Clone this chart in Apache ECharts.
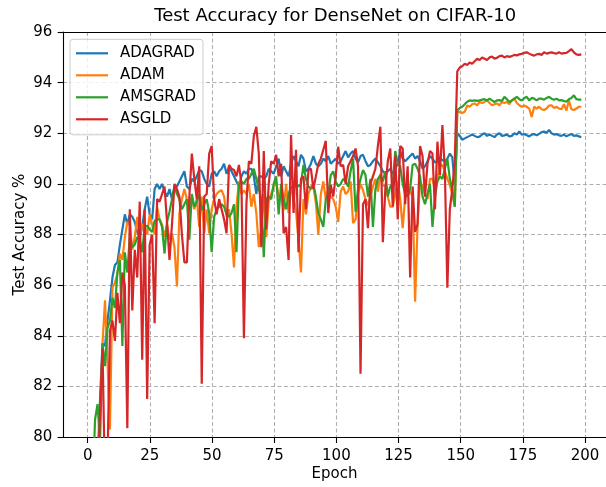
<!DOCTYPE html>
<html><head><meta charset="utf-8">
<script src="https://cdn.jsdelivr.net/npm/echarts@6/dist/echarts.min.js"></script>
<style>html,body{margin:0;padding:0;background:#fff}#c{width:606px;height:487px}</style>
</head><body><div id="c"></div>
<script>
// ---- data ----
const seriesNames = ['ADAGRAD', 'ADAM', 'AMSGRAD', 'ASGLD'];
const seriesColors = ['#1f77b4', '#ff7f0e', '#2ca02c', '#d62728'];
const xTickValues = [0, 25, 50, 75, 100, 125, 150, 175, 200];
const yTickValues = [80, 82, 84, 86, 88, 90, 92, 94, 96];

const adagrad = [
55, 65, 72, 76, 79, 81.5, 83.7, 83.6, 84.6, 85.4,
86.3, 86.8, 86.9, 87.6, 88.2, 88.8, 88.4, 88.8, 88.7, 88.5,
88.1, 87.9, 88.3, 89.0, 89.5, 88.8, 88.6, 89.8, 90.0, 89.8,
90.0, 89.7, 89.5, 89.8, 89.4, 89.9, 89.9, 90.1, 90.3, 90.5,
89.9, 89.8, 90.2, 90.1, 90.3, 90.55, 90.5, 90.2, 90.0, 89.9,
90.4, 90.5, 90.3, 90.5, 90.6, 90.8, 90.4, 90.7, 90.5, 90.3,
90.1, 89.9, 90.3, 90.5, 90.4, 90.6, 90.6, 90.3, 89.6, 90.3,
90.3, 90.2, 90.3, 90.6, 90.5, 90.4, 90.7, 91.0, 90.3, 90.7,
90.5, 90.3, 90.8, 91.1, 90.9, 90.7, 91.15, 91.0, 90.5, 90.6,
90.8, 91.1, 90.8, 90.7, 90.8, 91.0, 90.9, 91.1, 90.8, 90.9,
91.0, 90.8, 90.9, 91.1, 91.3, 91.05, 91.2, 91.3, 91.0, 90.85,
91.1, 91.15, 90.9, 90.7, 90.75, 90.9, 91.0, 90.85, 90.7, 90.5,
90.4, 90.5, 90.6, 90.4, 90.6, 90.8, 91.3, 91.0, 90.9, 91.0,
91.1, 91.2, 91.0, 91.1, 90.9, 90.6, 90.7, 90.9, 91.1, 91.0,
90.85, 90.9, 91.0, 90.95, 90.9, 91.0, 91.2, 91.05, 89.95, 92.0,
91.9, 91.75, 91.8, 91.85, 91.9, 91.95, 91.9, 91.85, 91.87, 91.95,
92.0, 91.9, 91.95, 91.9, 91.85, 91.95, 92.0, 91.9, 91.92, 91.95,
91.88, 91.9, 92.0, 91.95, 92.07, 91.95, 91.97, 91.92, 91.88, 91.95,
91.97, 91.92, 91.98, 92.05, 92.07, 92.02, 92.13, 92.0, 91.95, 91.97,
91.92, 91.9, 91.95, 91.88, 91.93, 91.97, 91.9, 91.92, 91.88, 91.85
];

const adam = [
50, 60, 68, 74, 78, 80.5, 83.7, 85.4, 83.0, 80.3,
85.9, 86.1, 86.45, 87.25, 87.0, 87.9, 88.5, 88.4, 87.4, 87.9,
88.7, 87.9, 88.4, 88.35, 88.0, 88.8, 88.4, 88.0, 89.1, 88.6,
88.4, 87.9, 88.4, 87.8, 88.05, 87.5, 85.95, 88.85, 89.4, 89.8,
89.4, 89.1, 89.5, 89.0, 89.4, 88.3, 89.5, 88.05, 89.0, 88.05,
89.0, 89.4, 89.6, 89.7, 89.75, 89.5, 88.7, 89.0, 88.05, 86.7,
89.1, 90.1, 89.6, 89.75, 89.6, 90.0, 89.1, 89.6, 88.85, 87.5,
88.2, 89.6, 87.9, 89.3, 89.6, 89.9, 90.1, 89.5, 89.6, 88.95,
90.0, 88.85, 89.9, 89.5, 88.9, 87.8, 86.5, 89.4, 88.8, 89.6,
89.9, 89.9, 89.25, 88.0, 89.6, 90.1, 89.4, 89.8, 89.5, 89.4,
89.1, 88.5, 89.7, 89.9, 89.6, 89.7, 90.1, 88.45, 88.6, 89.6,
90.0, 89.75, 89.4, 89.15, 89.5, 89.9, 90.2, 89.7, 90.4, 89.95,
89.9, 89.5, 89.1, 89.1, 89.6, 90.1, 89.4, 88.25, 89.5, 89.9,
89.7, 89.5, 85.35, 88.4, 90.1, 89.9, 89.6, 89.4, 90.2, 90.2,
89.8, 90.2, 90.7, 90.75, 90.5, 90.2, 89.95, 89.6, 89.1, 92.85,
92.85, 92.8, 92.85, 93.1, 93.05, 93.15, 93.18, 93.1, 93.24, 93.2,
93.24, 93.31, 93.2, 93.11, 93.15, 93.18, 93.1, 93.24, 93.2, 93.24,
93.15, 93.3, 93.37, 93.2, 93.11, 93.05, 93.1, 93.05, 92.98, 92.65,
93.05, 92.98, 93.05, 92.95, 92.92, 92.98, 93.1, 93.11, 93.0, 93.05,
92.98, 92.95, 93.15, 92.9, 93.3, 92.95, 92.92, 92.98, 93.05, 93.05
];

const amsgrad = [
50, 62, 78, 80.7, 81.3, 79.8, 83.7, 82.8, 84.3, 84.6,
85.5, 85.1, 86.5, 87.0, 83.6, 87.3, 86.5, 87.9, 87.5, 87.6,
87.9, 87.8, 87.3, 88.3, 88.35, 88.2, 88.1, 88.55, 88.6, 88.6,
88.3, 87.25, 88.5, 88.9, 89.4, 89.9, 89.6, 89.4, 89.0, 89.2,
89.4, 87.8, 89.6, 89.1, 89.3, 89.6, 88.97, 89.2, 89.4, 88.85,
87.3, 88.7, 89.0, 89.1, 89.2, 89.1, 88.8, 88.7, 88.85, 89.2,
87.3, 90.0, 90.1, 90.0, 90.2, 90.2, 90.4, 90.6, 90.2, 89.8,
89.4, 87.1, 89.4, 89.5, 89.4, 90.0, 90.3, 88.8, 90.0, 89.4,
89.0, 89.6, 89.9, 89.8, 90.0, 89.9, 90.0, 90.75, 90.2, 89.9,
89.8, 90.0, 89.5, 88.85, 88.6, 88.3, 89.4, 89.6, 90.35, 90.5,
90.1, 89.9, 90.0, 90.2, 90.1, 89.9, 90.5, 91.0, 88.9, 89.8,
90.2, 90.55, 90.35, 89.5, 90.2, 88.3, 89.8, 90.2, 90.35, 90.1,
90.5, 89.5, 89.9, 90.0, 91.3, 90.8, 90.7, 90.0, 89.6, 89.5,
89.8, 90.75, 90.8, 90.6, 90.3, 89.5, 89.2, 89.6, 90.0, 88.3,
89.5, 90.1, 90.3, 90.2, 90.6, 91.0, 90.2, 89.8, 89.1, 92.9,
93.0, 93.05, 93.15, 93.25, 93.3, 93.28, 93.3, 93.28, 93.3, 93.33,
93.35, 93.3, 93.37, 93.3, 93.24, 93.3, 93.31, 93.28, 93.44, 93.35,
93.24, 93.3, 93.37, 93.44, 93.35, 93.3, 93.4, 93.44, 93.3, 93.4,
93.37, 93.3, 93.37, 93.37, 93.33, 93.4, 93.44, 93.37, 93.33, 93.37,
93.3, 93.31, 93.28, 93.25, 93.35, 93.4, 93.5, 93.35, 93.33, 93.33
];

const asgld = [
50, 60, 68, 74, 78, 81, 83.5, 78, 79, 84.2,
84.6, 83.8, 85.7, 84.5, 86.5, 86.0, 80.35, 89.0, 85.0, 87.4,
86.3, 89.3, 83.05, 89.0, 81.5, 87.6, 88.0, 84.5, 89.4, 89.3,
89.6, 89.9, 88.5, 87.0, 88.4, 90.0, 89.8, 89.5, 88.0, 86.9,
86.9, 89.5, 91.2, 90.2, 89.4, 90.7, 82.1, 89.5, 89.6, 91.2,
91.5, 89.4, 88.8, 89.4, 89.0, 88.6, 88.05, 90.75, 90.6, 90.55,
90.3, 90.75, 90.0, 83.9, 89.2, 90.9, 90.8, 91.9, 92.26, 91.2,
87.5, 91.3, 88.2, 90.0, 90.9, 90.8, 91.15, 90.3, 90.8, 88.05,
88.3, 87.0, 91.93, 88.85, 91.35, 87.3, 90.2, 90.3, 89.0, 90.55,
90.6, 89.8, 90.3, 90.8, 91.0, 91.35, 91.7, 88.85, 89.96, 89.5,
90.3, 91.47, 90.7, 90.75, 90.0, 90.7, 90.9, 91.1, 91.4, 90.7,
82.5, 89.2, 89.4, 88.25, 90.0, 90.3, 90.6, 91.5, 92.26, 87.7,
89.8, 90.9, 91.4, 89.1, 91.1, 88.6, 91.5, 91.4, 89.2, 90.7,
86.3, 89.9, 88.1, 88.4, 91.5, 91.1, 89.5, 90.8, 91.3, 91.2,
89.0, 91.67, 90.35, 92.33, 90.5, 85.9, 89.0, 89.8, 90.95, 94.45,
94.6, 94.65, 94.75, 94.7, 94.8, 94.75, 94.85, 94.95, 94.9, 95.0,
94.95, 94.9, 95.0, 95.03, 94.95, 94.98, 95.05, 95.07, 95.0, 95.05,
95.02, 95.05, 95.1, 95.08, 95.12, 95.14, 95.18, 95.2, 95.15, 95.1,
95.07, 95.12, 95.14, 95.1, 95.2, 95.15, 95.18, 95.2, 95.17, 95.15,
95.2, 95.15, 95.17, 95.18, 95.25, 95.33, 95.2, 95.12, 95.1, 95.12
];

const epochs = adagrad.map((_, i) => i);
const seriesValues = [adagrad, adam, amsgrad, asgld];

// ---- layout ----
const FONT = 'DejaVu Sans';
const X_MIN = -9.95, X_MAX = 208.95;     // matplotlib auto-margins
const PX = 2.487;                         // px per epoch
const GL = 62.95, GT = 32.1, GH = 405.6;
const GW = (X_MAX - X_MIN) * PX;
const TL = GL + (xTickValues[0] - X_MIN) * PX;
const TW = (xTickValues[xTickValues.length - 1] - xTickValues[0]) * PX;
const spine = { color: '#000', width: 1.1 };
const gridLine = { color: '#b0b0b0', width: 1.1, type: [4, 2.5] };
const tickFont = { fontFamily: FONT, fontSize: 15, color: '#000' };

const chart = echarts.init(document.getElementById('c'), null, { renderer: 'canvas' });
chart.setOption({
  animation: false,
  backgroundColor: '#fff',
  graphic: [{
    type: 'text', x: GL + GW / 2, y: 16, z: 10,
    style: { text: 'Test Accuracy for DenseNet on CIFAR-10', fontFamily: FONT, fontSize: 18,
      fill: '#000', align: 'center', verticalAlign: 'middle', textAlign: 'center', textVerticalAlign: 'middle' }
  }],
  grid: [
    { left: GL, top: GT, width: GW, height: GH },
    { left: TL, top: GT, width: TW, height: GH }
  ],
  xAxis: [
    { gridIndex: 0, type: 'value', min: X_MIN, max: X_MAX, position: 'bottom',
      axisLine: { show: true, onZero: false, lineStyle: spine }, axisTick: { show: false },
      axisLabel: { show: false }, splitLine: { show: false },
      name: 'Epoch', nameLocation: 'middle', nameGap: 30, nameMoveOverlap: false,
      nameTextStyle: { fontFamily: FONT, fontSize: 15, color: '#000' } },
    { gridIndex: 0, type: 'value', min: X_MIN, max: X_MAX, position: 'top',
      axisLine: { show: true, onZero: false, lineStyle: spine }, axisTick: { show: false },
      axisLabel: { show: false }, splitLine: { show: false } },
    { gridIndex: 1, type: 'value', min: xTickValues[0], max: xTickValues[xTickValues.length - 1],
      interval: xTickValues[1] - xTickValues[0], position: 'bottom',
      axisLine: { show: false, onZero: false },
      axisTick: { show: true, length: 5.3, lineStyle: spine },
      axisLabel: Object.assign({ margin: 10.6 }, tickFont),
      splitLine: { show: true, lineStyle: gridLine } }
  ],
  yAxis: [
    { gridIndex: 0, type: 'value', min: yTickValues[0], max: yTickValues[yTickValues.length - 1],
      interval: yTickValues[1] - yTickValues[0],
      axisLine: { show: true, onZero: false, lineStyle: spine },
      axisTick: { show: true, length: 5.3, lineStyle: spine },
      axisLabel: Object.assign({ margin: 10.6 }, tickFont),
      splitLine: { show: true, lineStyle: gridLine },
      name: 'Test Accuracy %', nameLocation: 'middle', nameGap: 35, nameMoveOverlap: false,
      nameTextStyle: { fontFamily: FONT, fontSize: 15, color: '#000' } },
    { gridIndex: 1, type: 'value', min: yTickValues[0], max: yTickValues[yTickValues.length - 1], show: false }
  ],
  legend: {
    orient: 'vertical', left: 70, top: 39.3, data: seriesNames, selectedMode: false,
    icon: 'rect', itemWidth: 32, itemHeight: 2.2, itemGap: 7,
    padding: [6.5, 7, 8, 6],
    backgroundColor: 'rgba(255,255,255,0.8)', borderColor: '#cccccc', borderWidth: 1, borderRadius: 3,
    textStyle: { fontFamily: FONT, fontSize: 15, color: '#000', lineHeight: 15, padding: [0, 0, 0, 7] }
  },
  series: seriesNames.map((name, k) => ({
    name, type: 'line', xAxisIndex: 0, yAxisIndex: 0,
    data: seriesValues[k].map((v, i) => [epochs[i], v]),
    symbol: 'none', showSymbol: false, clip: true,
    lineStyle: { color: seriesColors[k], width: 2.2 },
    itemStyle: { color: seriesColors[k] },
    emphasis: { disabled: true }, z: 2 + k
  }))
});
</script>
</body></html>
